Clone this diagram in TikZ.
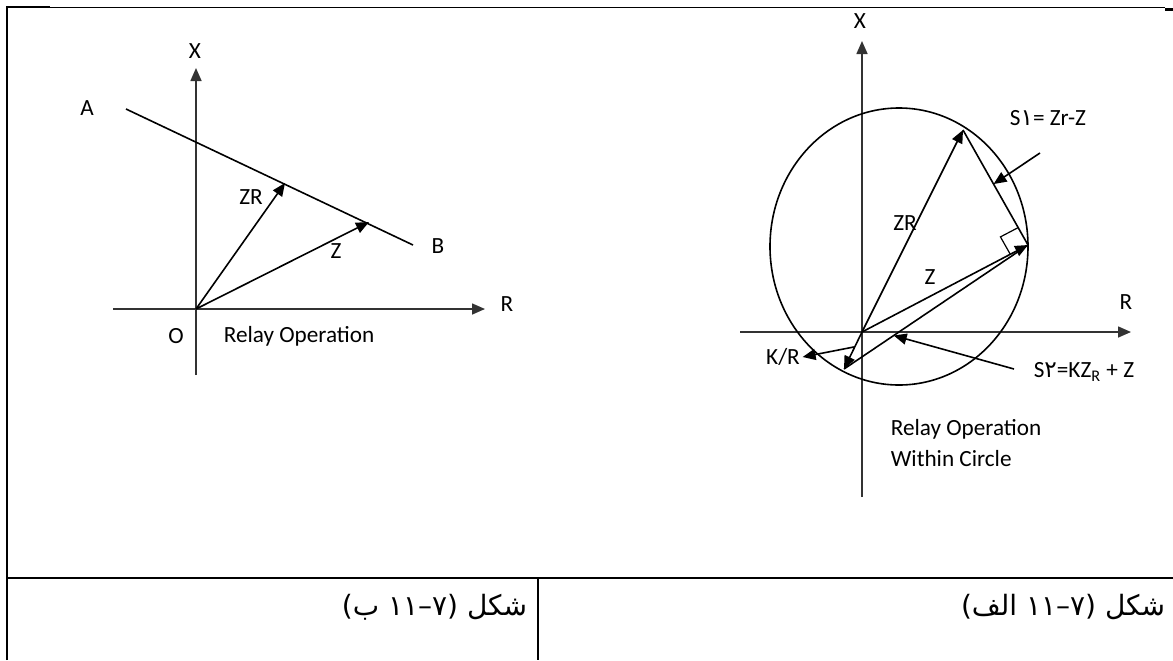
\documentclass[tikz,border=0pt]{standalone}
\usepackage{fontspec}
\setmainfont{Carlito}
\newfontfamily\arabicfont[Script=Arabic]{DejaVu Sans}
\TeXXeTstate=1
\usetikzlibrary{arrows.meta,calc}

\begin{document}
\begin{tikzpicture}[x=0.5pt,y=-0.5pt,line width=0.8pt,
  vec/.style={-{Triangle[length=6.5pt,width=5.5pt]}},
  axis/.style={black!80,-{Triangle[length=6.5pt,width=5.5pt]}},
  lbl/.style={font=\fontsize{11.6}{13}\selectfont,inner sep=1pt},
  caption/.style={font=\arabicfont\fontsize{14}{16}\selectfont,anchor=east,inner sep=0pt}]
\useasboundingbox (0,0) rectangle (1173,660);
\draw[line width=1.1pt] (7,660) -- (7,7) -- (50,7);
\draw[line width=0.5pt] (50,7) -- (1165,7);
\draw[line width=1.1pt] (1165,9.5) -- (1173,9.5);
\draw[line width=1.2pt] (7,578) -- (1173,578);
\draw[line width=0.8pt] (538,578) -- (538,660);
% left: relay operation
\coordinate (oL) at (196,309);
\coordinate (xbotL) at (196,375);
\coordinate (xtopL) at (196,68);
\coordinate (rlL) at (113,309);
\coordinate (rrL) at (485,309);
\draw[axis] (xbotL) -- (xtopL);
\draw[axis] (rlL) -- (rrL);
\node[lbl] (xL) at (195,51) {X};
\node[lbl] (rL) at (507,304) {R};
\node[lbl] (oLbl) at (176,336) {O};
\node[lbl,anchor=west] (relL) at (221,336) {Relay Operation};
\node[lbl] (aL) at (87,108) {A};
\node[lbl] (bL) at (438,246) {B};
\coordinate (a) at (126,109);
\coordinate (b) at (413,245);
\draw (a) -- (b);
\coordinate (zrL) at (285,183);
\coordinate (zL) at (369,222);
\draw[vec] (oL) -- (zrL);
\draw[vec] (oL) -- (zL);
\node[lbl] (zrLbl) at (251,197) {ZR};
\node[lbl] (zLbl) at (336,251) {Z};
% right: relay operation within circle
\coordinate (oR) at (862,332);
\coordinate (xbotR) at (862,497);
\coordinate (xtopR) at (862,41);
\coordinate (rlR) at (740,332);
\coordinate (rrR) at (1131,332);
\draw[axis] (xbotR) -- (xtopR);
\draw[axis] (rlR) -- (rrR);
\draw (899,246.5) ellipse [x radius=64.5pt, y radius=69.25pt];
\node[lbl] (xR) at (860,21) {X};
\node[lbl] (rR) at (1126,302) {R};
\coordinate (zrR) at (963,130);
\coordinate (pR) at (1028,245);
\coordinate (qR) at (844,369);
\draw[vec] (oR) -- (zrR);
\draw (zrR) -- (pR);
\draw[vec] (oR) -- (pR);
\draw[vec] (oR) -- (qR);
\draw (qR) -- (pR);
\coordinate (ra1) at ($(pR)!10pt!(oR)$);
\coordinate (ra2) at ($(pR)!10pt!(zrR)$);
\draw[line width=0.6pt] (ra1) -- ($(ra1)+(ra2)-(pR)$) -- (ra2);
\node[lbl] (zrRlbl) at (905,223) {ZR};
\node[lbl] (zRlbl) at (930,277) {Z};
\node[lbl] (s1) at (1048,118) {S{\arabicfont ۱}= Zr-Z};
\coordinate (s1p) at (1040,153);
\draw[vec] (s1p) -- ($(zrR)!0.47!(pR)$);
\node[lbl,anchor=west] (s2) at (1031,372) {S{\arabicfont ۲}=KZ\textsubscript{R} + Z};
\coordinate (s2p) at (1014,369);
\draw[vec] (s2p) -- ($(qR)!0.27!(pR)$);
\node[lbl] (kr) at (783,357) {K/R};
\draw[vec] ($(oR)!0.4!(qR)$) -- (kr.east);
\node[lbl,anchor=west,align=left,font=\fontsize{11.6}{15.5}\selectfont] (relR) at (888,443) {Relay Operation\\Within Circle};
% captions
\node[caption] (capB) at (528,607) {\beginR شکل (۷–۱۱ ب)\endR};
\node[caption] (capA) at (1166,607) {\beginR شکل (۷–۱۱ الف)\endR};
\end{tikzpicture}
\end{document}
